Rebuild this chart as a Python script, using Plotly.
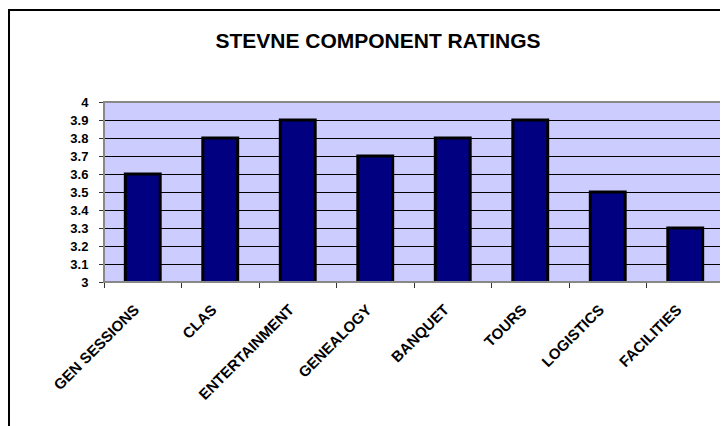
import plotly.graph_objects as go

categories = ["GEN SESSIONS", "CLAS", "ENTERTAINMENT", "GENEALOGY", "BANQUET", "TOURS", "LOGISTICS", "FACILITIES"]
ratings = [3.6, 3.8, 3.9, 3.7, 3.8, 3.9, 3.5, 3.3]
y_ticks = [3, 3.1, 3.2, 3.3, 3.4, 3.5, 3.6, 3.7, 3.8, 3.9, 4]
y_tick_labels = ["3", "3.1", "3.2", "3.3", "3.4", "3.5", "3.6", "3.7", "3.8", "3.9", "4"]

fig = go.Figure(go.Bar(
    x=categories, y=ratings,
    marker=dict(color="#000080", line=dict(color="#000000", width=3)),
    width=0.45,
))

W, H = 728, 426
OFF = 8  # page body margin
l, t = 104 - OFF, 102 - OFF
r = W - (724 - OFF)
b = H - (282 - OFF)
pw, ph = W - l - r, H - t - b

def px_x(px):
    return (px - OFF - l) / pw

def px_y(py):
    return (H - b - (py - OFF)) / ph

fig.update_layout(
    width=W, height=H,
    margin=dict(l=l, r=r, t=t, b=b),
    paper_bgcolor="white",
    plot_bgcolor="#CCCCFF",
    showlegend=False,
    title=dict(text="<b>STEVNE COMPONENT RATINGS</b>", x=(378 - OFF) / W, xanchor="center",
               y=1 - (41 - OFF) / H, yanchor="middle",
               font=dict(family="Arial, Liberation Sans", size=21, color="black")),
    font=dict(family="Arial, Liberation Sans", color="black"),
    bargap=0.55,
)
fig.update_xaxes(
    type="category", tickangle=-45, tickson="boundaries", ticks="outside", ticklen=5,
    tickcolor="#333333", showline=True, linecolor="#333333", linewidth=1,
    showgrid=False, ticklabelstandoff=12, ticklabelshift=-8,
    tickfont=dict(size=15, family="Arial, Liberation Sans", color="black", weight="bold"),
)
fig.update_yaxes(
    range=[3, 4], tickvals=y_ticks, ticktext=y_tick_labels, ticks="outside", ticklen=4,
    tickcolor="#333333", showline=True, linecolor="#333333", linewidth=1,
    showgrid=True, gridcolor="#000000", gridwidth=1, zeroline=False,
    ticklabelstandoff=8,
    tickfont=dict(size=13, family="Arial, Liberation Sans", color="black", weight="bold"),
)
# plot area border (gray)
fig.add_shape(type="rect", xref="paper", yref="paper", x0=0, x1=1, y0=0, y1=1,
              line=dict(color="#888888", width=2), layer="above")
# outer chart border
fig.add_shape(type="rect", xref="paper", yref="paper",
              x0=px_x(9), x1=px_x(760), y0=px_y(460), y1=px_y(10),
              line=dict(color="#000000", width=2), layer="above")

fig.write_html("out.html")
